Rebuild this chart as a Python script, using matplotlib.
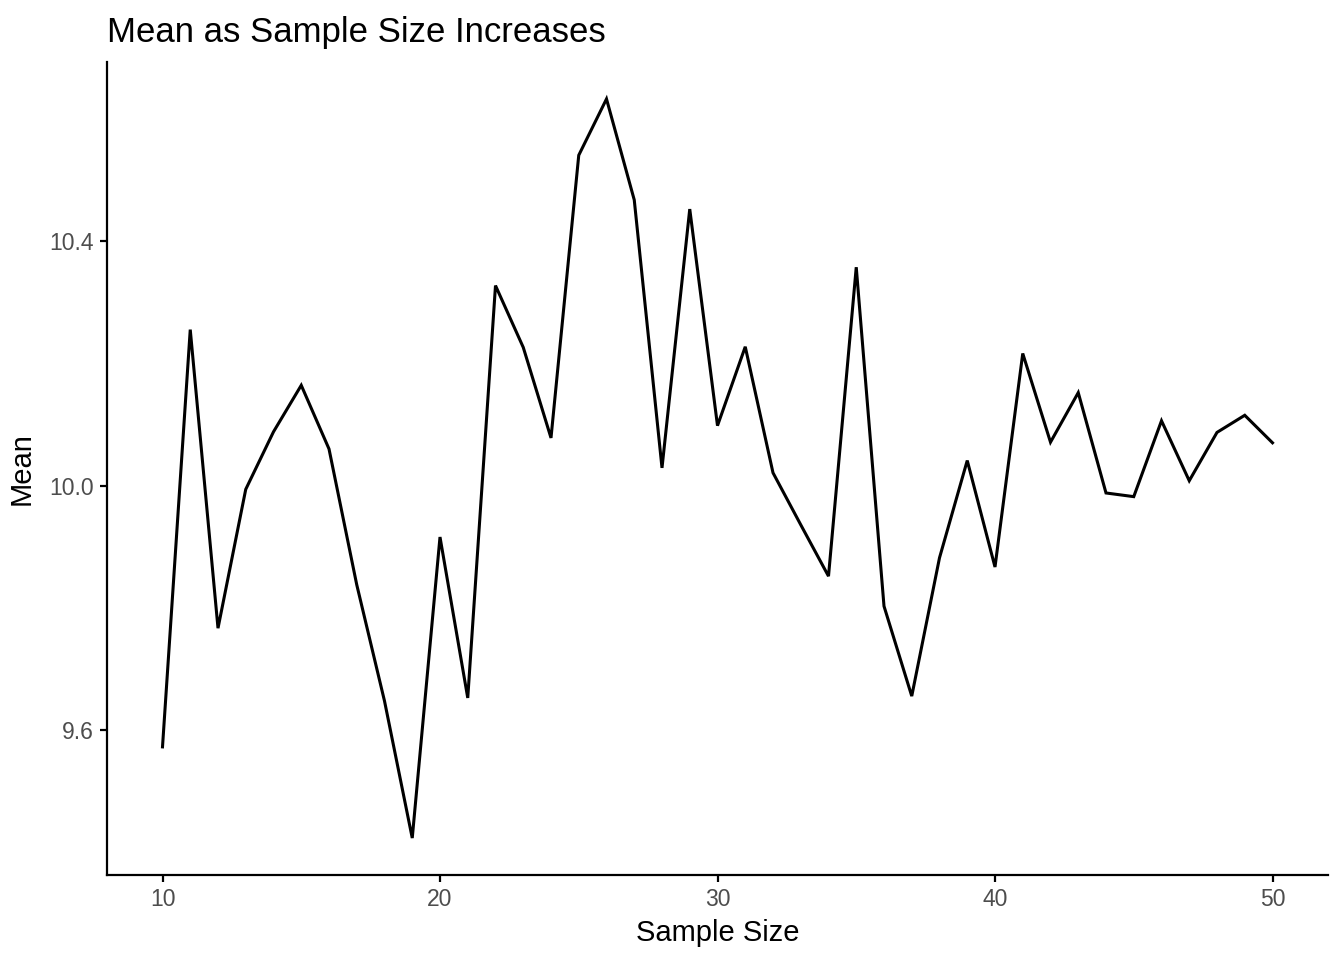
import numpy as np
import matplotlib
matplotlib.use('Agg')
from matplotlib import pyplot as plt

plt.rcParams['font.family'] = ['Liberation Sans', 'DejaVu Sans']

# sample sizes and the running mean
sample_size = list(range(10, 51))
mean_vals = [9.573, 10.255, 9.767, 9.994, 10.088, 10.164, 10.060, 9.838, 9.648, 9.424,
             9.916, 9.653, 10.327, 10.226, 10.078, 10.540, 10.632, 10.467, 10.029, 10.452,
             10.098, 10.227, 10.021, 9.936, 9.852, 10.357, 9.803, 9.656, 9.882, 10.041,
             9.867, 10.216, 10.071, 10.152, 9.988, 9.982, 10.106, 10.008, 10.087, 10.115,
             10.070]
x_ticks = [10, 20, 30, 40, 50]
y_ticks = [9.6, 10.0, 10.4]

fig = plt.figure(figsize=(13.44, 9.6), dpi=100)
ax = fig.add_axes([107/1344, 85/960, (1328-107)/1344, (875-62)/960])

ax.plot(sample_size, mean_vals, color='black', linewidth=2.2, solid_joinstyle='miter')

# ggplot-style 5% expansion
xr = max(sample_size) - min(sample_size)
ax.set_xlim(min(sample_size) - 0.05*xr, max(sample_size) + 0.05*xr)
yr = max(mean_vals) - min(mean_vals)
ax.set_ylim(min(mean_vals) - 0.05*yr, max(mean_vals) + 0.05*yr)

ax.set_xticks(x_ticks)
ax.set_xticklabels([str(t) for t in x_ticks])
ax.set_yticks(y_ticks)
ax.set_yticklabels(['%.1f' % t for t in y_ticks])

for s in ['top', 'right']:
    ax.spines[s].set_visible(False)
for s in ['left', 'bottom']:
    ax.spines[s].set_linewidth(1.6)
    ax.spines[s].set_color('black')
ax.tick_params(axis='both', length=5.3, width=1.6, color='black',
               labelsize=16.5, labelcolor='#4D4D4D', pad=4)

ax.set_xlabel('Sample Size', fontsize=21, labelpad=6)
ax.set_ylabel('Mean', fontsize=21, labelpad=10)
fig.text(107/1344, 1 - 42/960, 'Mean as Sample Size Increases', fontsize=25,
         ha='left', va='baseline')

fig.savefig('out.png', dpi=100)
